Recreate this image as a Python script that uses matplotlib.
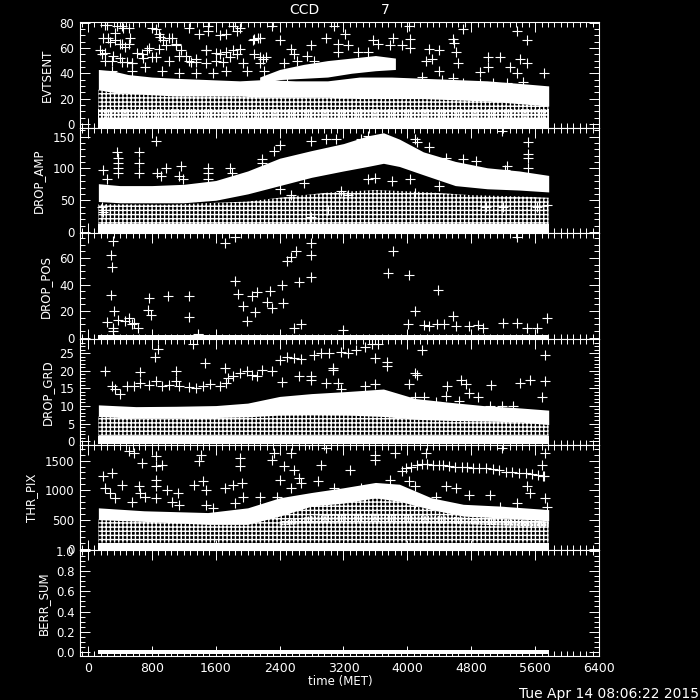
import matplotlib
matplotlib.use('Agg')
import matplotlib.pyplot as plt
from matplotlib.ticker import MultipleLocator, FormatStrFormatter

plt.rcParams['hatch.linewidth'] = 1.0
plt.rcParams['font.family'] = ['DejaVu Sans']

# ------------------------------------------------- shared
x_ticks = [0, 800, 1600, 2400, 3200, 4000, 4800, 5600, 6400]
run_start, run_end = 130, 5770

# ------------------------------------------------- EVTSENT
evt_band_x  = [130, 300, 500, 800, 1100, 1500, 1900, 2200, 2600, 3000, 3400, 3800, 4200, 4600, 5000, 5400, 5770]
evt_band_lo = [27, 25, 24, 23, 22, 22, 22, 21, 21, 21, 20, 20, 20, 19, 18, 16, 14]
evt_band_hi = [43, 42, 39, 37, 36, 35, 34, 35, 34, 34, 37, 37, 36, 35, 34, 32, 30]
evt_up_x  = [2150, 2400, 2700, 3000, 3300, 3600, 3850]
evt_up_lo = [32, 35, 36, 37, 40, 42, 43]
evt_up_hi = [37, 43, 47, 50, 52, 54, 52]
evt_low = (3.5, 12)
evt_base = (-3, 3.5)
evt_x = [213, 424, 509, 805, 1270, 1500, 1500, 1820, 1900, 2305, 3087, 4016, 4693, 5369, 5496,
         889, 1016, 1396, 1650, 1734, 1861, 2073, 2157, 2411, 2791, 2981, 3213, 3256, 3573, 3826, 4037, 4566, 4587,
         255, 340, 424, 509, 762, 889, 1101, 1481, 1650, 1734, 1861, 2073, 2157, 2537, 2580, 2749, 3129, 3129,
         3383, 3509, 3636, 3784, 3932, 4037, 4270, 4397, 4608, 5010, 5158, 5411, 5496,
         171, 213, 298, 424, 551, 678, 847, 1016, 1143, 1270, 1354, 1481, 1608, 1946, 2157, 2453, 2622, 2833,
         4313, 4228, 4629, 5010, 5285, 5369, 5707, 4397, 4904,
         298, 551, 720, 932, 1143, 1354, 1565, 1734, 1988, 2199, 2495, 4185, 4439, 4566, 4693, 4904, 5073, 5242, 5453,
         233, 358, 442, 192, 275, 338, 400, 463, 525, 150, 213, 317, 400, 483, 546, 608, 692, 733, 796,
         858, 900, 942, 983, 1046, 1108, 1171, 1233, 1296, 1358, 1483, 1608, 1692, 1775, 1817, 1900,
         2067, 2129, 2192, 2233]
evt_y = [78.5, 77, 76, 76, 76, 77, 73, 77, 76, 77, 77, 77, 75, 73, 66,
         71, 68, 71, 70, 71, 73, 67, 68, 66, 62, 68, 71, 62, 66, 68, 67, 67, 64,
         68, 66, 63, 63, 60, 59, 62, 58, 55, 57, 55, 55, 53, 59, 55, 54, 63, 57,
         57, 57, 63, 62, 62, 60, 59, 58, 57, 53, 53, 51, 48,
         55, 50, 50, 49, 48, 55, 53, 50, 54, 50, 49, 48, 50, 48, 48, 48, 50, 50,
         51, 50, 48, 45, 45, 40, 40, 42, 41,
         42, 42, 45, 42, 40, 40, 40, 42, 42, 42, 38, 37, 35, 36, 32, 32, 32, 32, 33,
         78, 77, 76, 68, 65, 72, 63, 61, 68, 58, 56, 54, 52, 49, 48, 56, 52, 58, 53,
         75, 69, 66, 62, 68, 63, 58, 54, 49, 51, 58, 56, 49, 53, 58, 59,
         66, 68, 51, 53]

# ------------------------------------------------- DROP_AMP
amp_band_x  = [130, 400, 800, 1200, 1600, 2000, 2400, 2800, 3200, 3500, 3700, 3900, 4200, 4600, 5000, 5400, 5770]
amp_band_lo = [48, 46, 46, 46, 50, 60, 73, 86, 96, 103, 108, 103, 90, 73, 68, 66, 63]
amp_band_hi = [76, 73, 73, 75, 81, 96, 116, 128, 139, 151, 156, 146, 126, 111, 101, 96, 89]
amp_speck_x  = [130, 1000, 2000, 2400, 3000, 3600, 4200, 4800, 5400, 5770]
amp_speck_hi = [44, 43, 48, 54, 62, 66, 63, 58, 56, 54]
amp_base = (-2, 12)
amp_x = [847, 5179, 5517, 5517, 5517, 5517, 361, 372, 372, 382, 382, 636, 636, 636, 192, 234,
         868, 910, 974, 1164, 1143, 1185, 1502, 1502, 1502, 1777, 1798, 2178, 2178, 2326, 2411,
         2791, 2981, 3108, 3425, 3509, 4101, 4122, 4270, 5242, 5221, 4862, 4693, 4481,
         3509, 3594, 2706, 3171, 3256, 3805, 4037, 4397, 4101, 2411, 2537, 5622, 5749, 4988, 5200,
         171, 192, 2791, 3002]
amp_y = [143, 159, 141, 122, 117, 101, 125, 117, 109, 101, 93, 125, 109, 93, 98, 83,
         93, 88, 101, 104, 88, 83, 101, 93, 83, 101, 93, 114, 109, 127, 136,
         143, 146, 146, 146, 151, 146, 141, 133, 104, 98, 112, 114, 117,
         83, 85, 77, 64, 59, 80, 83, 72, 61, 67, 59, 40, 43, 40, 40,
         40, 32, 24, 35]

# ------------------------------------------------- DROP_POS
pos_base = (-1, 2)
pos_x = [319, 289, 306, 289, 331, 234, 382, 509, 572, 627, 319, 319, 467, 551,
         762, 754, 784, 1008, 1270, 1270, 1375,
         1722, 1840, 1840, 1882, 1937, 1988, 2051, 2094, 2115, 2242, 2284, 2305, 2432, 2444,
         2495, 2537, 2601, 2643, 2664, 2580, 2791, 2799, 2791, 3192,
         3755, 3814, 4016, 4101, 4008, 4388, 4566,
         4460, 4207, 4376, 4270, 4608, 4778, 4883, 4946, 5200, 5369, 5496, 5622, 5749, 5369]
pos_y = [73, 62, 53, 32, 20, 12, 13, 15, 11, 7, 7.5, 5, 12.5, 10,
         30, 21, 17, 31, 31, 15.5, 2.5,
         71, 76, 43, 33, 24, 12.5, 31, 19, 34.5, 27, 35, 22.5, 39.5, 26,
         57.5, 61, 65.5, 42, 10, 7.5, 71, 62, 45.5, 6,
         48.5, 65.5, 47.5, 20, 10, 35.5, 16,
         10, 9.5, 10, 9, 9, 9, 9.5, 7.5, 11, 11, 7.5, 7, 15, 76]

# ------------------------------------------------- DROP_GRD
grd_band_x  = [130, 600, 1100, 1600, 2000, 2400, 2800, 3250, 3700, 4100, 4500, 4950, 5370, 5770]
grd_band_lo = [7.0, 6.5, 6.5, 6.7, 6.9, 7.4, 7.5, 7.4, 7.0, 6.2, 5.9, 5.7, 5.5, 4.7]
grd_band_hi = [10.3, 9.8, 9.9, 10.1, 10.8, 12.7, 13.5, 14.1, 14.8, 12.1, 11.1, 10.1, 9.5, 8.8]
grd_base = (-0.8, 1.5)
grd_x = [213, 298, 340, 403,
         488, 572, 657, 762, 847, 932, 1016, 1101, 1143, 1270, 1354, 1439, 1523, 1650, 1734, 1756,
         1819, 1903, 1988, 2051, 2115, 2178,
         2411, 2495, 2580, 2664, 2833, 2918, 3023, 3171, 3256, 3361, 3467, 3552, 3636,
         1312, 877, 838, 1468, 1713, 657, 1101, 2305, 2432, 2643, 2791, 2791, 3066, 3066,
         2981, 3129, 3171, 3467, 3594, 3594, 3742, 3742, 4185, 4101, 4122, 4016,
         4502, 4672, 4735, 4778, 4883, 4101, 4207, 5052, 5411, 5538, 5728, 5728, 5686,
         4481, 4650, 5031, 5179, 5327, 4355]
grd_y = [19.8, 15.6, 14.7, 13.3,
         15.6, 15.6, 16.5, 15.8, 17.0, 15.6, 15.8, 17.0, 15.6, 15.4, 15.1, 15.6, 16.1, 15.6, 16.5, 17.9,
         18.6, 19.3, 19.8, 18.8, 18.4, 20.2,
         23.0, 24.0, 23.5, 23.2, 24.4, 24.9, 25.1, 25.4, 24.9, 25.8, 26.7, 27.5, 27.7,
         27.7, 26.3, 24.0, 22.1, 20.7, 19.5, 19.8, 19.8, 16.9, 18.4, 18.4, 17.5, 20.2, 20.7,
         16.5, 16.5, 14.7, 15.6, 16.1, 23.5, 22.6, 21.2, 25.8, 19.3, 18.9, 16.3,
         15.6, 17.5, 16.1, 13.8, 12.4, 12.4, 12.4, 15.8, 16.5, 17.5, 24.4, 17.0, 12.4,
         12.8, 11.4, 10.0, 10.0, 10.0, 11.0]

# ------------------------------------------------- THR_PIX
thr_band_x  = [130, 700, 1500, 2000, 2400, 2800, 3200, 3600, 3900, 4300, 4700, 5150, 5770]
thr_band_lo = [500, 470, 420, 420, 560, 730, 780, 870, 810, 670, 560, 530, 480]
thr_band_hi = [700, 650, 620, 700, 870, 960, 1040, 1130, 1100, 870, 760, 730, 670]
thr_mid_x  = [2400, 2800, 3200, 3600, 4000, 4400, 4800, 5200, 5770]
thr_mid_lo = [400, 440, 460, 460, 450, 430, 420, 400, 380]
thr_mid_hi = [470, 560, 600, 600, 580, 560, 530, 510, 470]
thr_base = (-17, 110)
thr_x = [509, 572, 847, 847, 932, 678, 1418, 1396, 1903, 1903, 2326, 2305, 2537, 2453, 2580, 2770,
         2918, 2981, 3277, 3594, 3594, 3847, 4228, 5179, 5728, 5686,
         192, 298, 424, 636, 657, 847, 847, 995, 1122, 1333, 1439, 1481, 1713, 1819, 1925, 1946,
         2157, 2411, 2537, 2643, 2664, 2876, 3087, 3425, 3467, 3784, 4016, 4101, 4481, 4608, 4778,
         5031, 5496, 5538, 5728, 5707,
         213, 276, 340, 551, 720, 847, 1058, 1143, 1481, 1565, 1840, 2157, 2368, 4101, 4355, 5158, 5369, 5749]
thr_y = [1660, 1631, 1574, 1403, 1432, 1460, 1603, 1489, 1546, 1403, 1631, 1517, 1631, 1403, 1346, 1773,
         1432, 1716, 1346, 1603, 1517, 1631, 1631, 1716, 1631, 1432,
         1232, 1289, 1090, 1062, 948, 1176, 1062, 1005, 948, 1090, 1147, 1005, 1033, 1090, 1119, 891,
         891, 1176, 1033, 1204, 1119, 1147, 1033, 1033, 891, 1176, 1147, 1062, 1062, 1033, 920,
         920, 1062, 948, 863, 1232,
         1033, 948, 863, 806, 891, 863, 806, 749, 749, 692, 777, 720, 891, 777, 891, 720, 777, 720]
thr_track_x = [3930, 3980, 4050, 4120, 4180, 4250, 4320, 4390, 4450, 4520, 4600, 4680, 4750,
               4820, 4900, 4980, 5070, 5150, 5230, 5310, 5400, 5480, 5560, 5640, 5700]
thr_track_y = [1320, 1370, 1400, 1430, 1450, 1440, 1430, 1420, 1430, 1410, 1400, 1400, 1390,
               1380, 1380, 1370, 1350, 1340, 1310, 1300, 1290, 1290, 1280, 1260, 1240]

# ------------------------------------------------- BERR_SUM
berr_base = (-0.025, 0.015)

names = ['EVTSENT', 'DROP_AMP', 'DROP_POS', 'DROP_GRD', 'THR_PIX', 'BERR_SUM']
ylims = [(-3, 80.5), (-2, 164), (-1, 78.5), (-1, 29), (-20, 1770), (-0.04, 1.005)]
ymajor = [20, 50, 20, 5, 500, 0.2]
yminor = [5, 10, 5, 1, 100, 0.05]
label_x_px = [47, 38, 45, 47, 32, 43]


def crosses(ax, x, y):
    ax.plot(x, y, '+', color='white', ms=7, mew=0.8, ls='none')


def band(ax, x, lo, hi, hatch=None):
    if hatch:
        ax.fill_between(x, lo, hi, facecolor='none', edgecolor='white', hatch=hatch, lw=0)
    else:
        ax.fill_between(x, lo, hi, color='white', lw=0)


fig = plt.figure(figsize=(7, 7), dpi=100, facecolor='black')
top_px, bot_px = 22, 656
h_px = (bot_px - top_px) / 6.0
axes = []
for i in range(6):
    y0 = 1 - (top_px + (i + 1) * h_px) / 700.0
    ax = fig.add_axes([80 / 700.0, y0, 519 / 700.0, h_px / 700.0])
    ax.set_facecolor('black')
    ax.set_xlim(-100, 6400)
    ax.set_ylim(*ylims[i])
    ax.xaxis.set_major_locator(MultipleLocator(800))
    ax.xaxis.set_minor_locator(MultipleLocator(80))
    ax.yaxis.set_major_locator(MultipleLocator(ymajor[i]))
    ax.yaxis.set_minor_locator(MultipleLocator(yminor[i]))
    for s in ax.spines.values():
        s.set_color('white')
        s.set_linewidth(0.8)
    ax.tick_params(which='both', direction='in', top=True, right=True,
                   colors='white', labelsize=8.5, pad=4)
    ax.tick_params(which='major', length=7, width=0.7)
    ax.tick_params(which='minor', length=3.5, width=0.7)
    if i < 5:
        ax.tick_params(labelbottom=False)
    yc = (top_px + (i + 0.5) * h_px) / 700.0
    fig.text(label_x_px[i] / 700.0, 1 - yc, names[i], rotation=90, color='white',
             fontsize=8.5, ha='center', va='center')
    axes.append(ax)

axes[5].yaxis.set_major_formatter(FormatStrFormatter('%.1f'))
axes[5].set_xticks(x_ticks)
axes[5].tick_params(axis='x', labelsize=9)

# EVTSENT
ax = axes[0]
band(ax, [run_start, run_end], evt_base[0], evt_base[1])
band(ax, evt_band_x, evt_base[1], evt_band_lo, hatch='++++')
band(ax, [run_start, run_end], evt_low[0], evt_low[1], hatch='+++++')
band(ax, evt_band_x, evt_band_lo, evt_band_hi)
band(ax, evt_up_x, evt_up_lo, evt_up_hi)
crosses(ax, evt_x, evt_y)

# DROP_AMP
ax = axes[1]
band(ax, [run_start, run_end], amp_base[0], amp_base[1])
band(ax, amp_speck_x, amp_base[1], amp_speck_hi, hatch='++++')
band(ax, amp_band_x, amp_band_lo, amp_band_hi)
crosses(ax, amp_x, amp_y)

# DROP_POS
ax = axes[2]
band(ax, [run_start, run_end], pos_base[0], pos_base[1])
crosses(ax, pos_x, pos_y)

# DROP_GRD
ax = axes[3]
band(ax, [run_start, run_end], grd_base[0], grd_base[1])
band(ax, grd_band_x, grd_base[1], grd_band_lo, hatch='++++')
band(ax, grd_band_x, grd_band_lo, grd_band_hi)
crosses(ax, grd_x, grd_y)

# THR_PIX
ax = axes[4]
band(ax, [run_start, run_end], thr_base[0], thr_base[1])
band(ax, thr_band_x, thr_base[1], thr_band_lo, hatch='++++')
band(ax, thr_mid_x, thr_mid_lo, thr_mid_hi, hatch='+++++')
band(ax, thr_band_x, thr_band_lo, thr_band_hi)
crosses(ax, thr_x, thr_y)
crosses(ax, thr_track_x, thr_track_y)

# BERR_SUM
ax = axes[5]
band(ax, [run_start, run_end], berr_base[0], berr_base[1])

# title is drawn as two pieces, IDL style spacing
fig.text(304 / 700.0, 1 - 10 / 700.0, 'CCD', color='white', fontsize=10,
         ha='center', va='center')
fig.text(385 / 700.0, 1 - 10 / 700.0, '7', color='white', fontsize=10,
         ha='center', va='center')
fig.text(340 / 700.0, 1 - 682 / 700.0, 'time (MET)', color='white', fontsize=8.5,
         ha='center', va='center')
fig.text(699 / 700.0, 1 - 694 / 700.0, 'Tue Apr 14 08:06:22 2015', color='white',
         fontsize=10, ha='right', va='center')

fig.savefig('out.png', dpi=100, facecolor='black')
